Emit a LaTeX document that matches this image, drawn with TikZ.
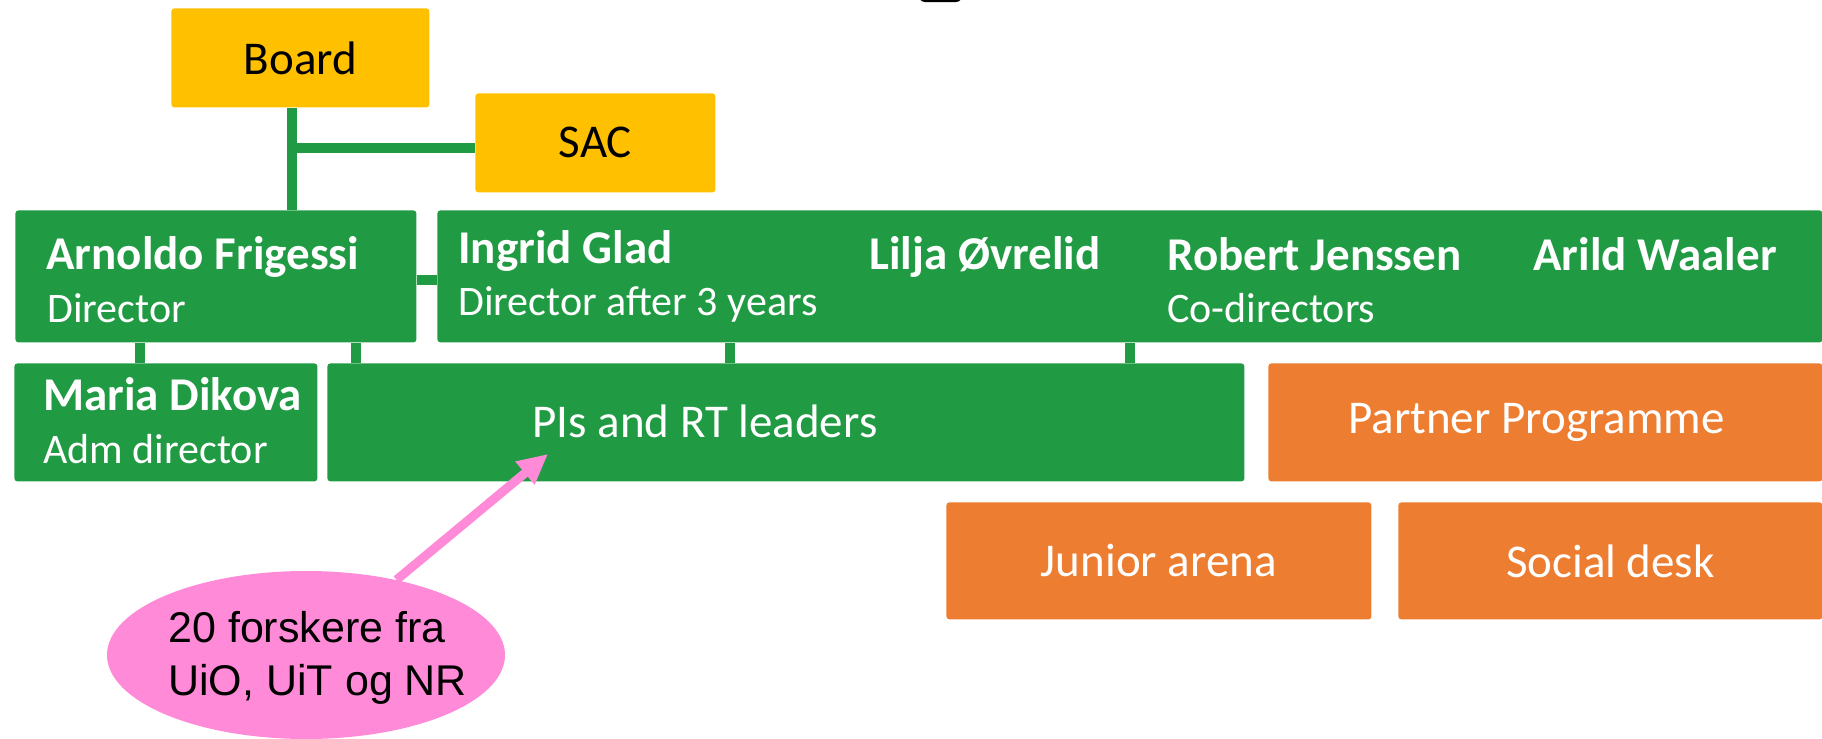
\documentclass[tikz,border=0pt]{standalone}
\usepackage{fontspec}
\setmainfont{Carlito}
\newfontfamily\arialfont{Liberation Sans}
\usetikzlibrary{arrows.meta,shapes.geometric}
\definecolor{boardgold}{RGB}{255,192,0}
\definecolor{teamgreen}{RGB}{33,155,67}
\definecolor{armorange}{RGB}{237,125,49}
\definecolor{notepink}{RGB}{255,138,216}

\begin{document}
\begin{tikzpicture}[x=0.5pt, y=-0.5pt,
  box/.style={rectangle, rounded corners=1.5pt, anchor=north west, inner sep=0pt, font=\fontsize{23.5}{28}\selectfont},
  govbox/.style={box, fill=boardgold, text=black},
  teambox/.style={box, fill=teamgreen, text=white},
  armbox/.style={box, fill=armorange, text=white},
  who/.style={anchor=base west, inner sep=0pt, text=white, font=\bfseries\fontsize{23.5}{28}\selectfont},
  role/.style={anchor=base west, inner sep=0pt, text=white, font=\fontsize{21}{25}\selectfont},
  notetext/.style={anchor=base west, inner sep=0pt, font=\arialfont\fontsize{21.5}{26.5}\selectfont},
  link/.style={draw=teamgreen, line width=5pt},
  pointer/.style={draw=notepink, line width=4.5pt, -{Triangle[length=15pt,width=14pt]}}]
\useasboundingbox (0,0) rectangle (1822,739);
\fill[black, rounded corners=3pt] (919,-20) rectangle (962,2);

% governance
\node[govbox, minimum width=129pt, minimum height=49.5pt] (board) at (171,8) {Board};
\node[govbox, minimum width=120pt, minimum height=49.5pt] (sac) at (475,93) {SAC};

% directors
\node[teambox, minimum width=200.5pt, minimum height=66pt] (arnoldo) at (15,210) {};
\node[teambox, minimum width=692.5pt, minimum height=66pt] (codir) at (437,210) {};
\node[who] (arnoldoname) at (46,269) {Arnoldo Frigessi};
\node[role] (arnoldorole) at (47,322) {Director};
\foreach \nm/\x/\y/\txt in {ingrid/458/263/Ingrid Glad, lilja/869/269/Lilja Øvrelid,
  robert/1167/270/Robert Jenssen, arild/1533/270/Arild Waaler}
  \node[who] (\nm) at (\x,\y) {\txt};
\node[role] (ingridrole) at (458,315) {Director after 3 years};
\node[role] (codirrole) at (1167,322) {Co-directors};

% staff and programmes
\node[teambox, minimum width=151.5pt, minimum height=59pt] (maria) at (14,363) {};
\node[who] (marianame) at (43,410) {Maria Dikova};
\node[role] (mariarole) at (43,463) {Adm director};
\node[teambox, minimum width=458.5pt, minimum height=59pt] (pis) at (327,363) {};
\node[anchor=base west, inner sep=0pt, text=white, font=\fontsize{23.5}{28}\selectfont] (pislabel) at (532,437) {PIs and RT leaders};
\node[armbox, minimum width=277pt, minimum height=59pt] (partner) at (1268,363) {\hspace*{-9pt}Partner Programme};
\node[armbox, minimum width=212.5pt, minimum height=58.5pt] (junior) at (946,502) {Junior arena};
\node[armbox, minimum width=212pt, minimum height=58.5pt] (social) at (1398,502) {Social desk};

% connectors
\coordinate (j1) at (292,148);
\draw[link] (board.south -| j1) -- (j1 |- arnoldo.north);
\draw[link] (j1) -- (j1 -| sac.west);
\draw[link] ([yshift=-2pt]arnoldo.east) -- ([yshift=-2pt]codir.west);
\foreach \x/\up/\down in {140/arnoldo/maria, 356/arnoldo/pis, 730/codir/pis, 1130/codir/pis}
  \draw[link] (\up.south -| \x,0) -- (\down.north -| \x,0);

% note
\node[ellipse, fill=notepink, minimum width=199pt, minimum height=84pt, inner sep=0pt] (note) at (306,655) {};
\node[notetext] (noteone) at (168,642) {20 forskere fra};
\node[notetext] (notetwo) at (168,695) {UiO, UiT og NR};
\coordinate (pitip) at (548,454);
\draw[pointer] (note) -- (pitip);
\end{tikzpicture}
\end{document}
